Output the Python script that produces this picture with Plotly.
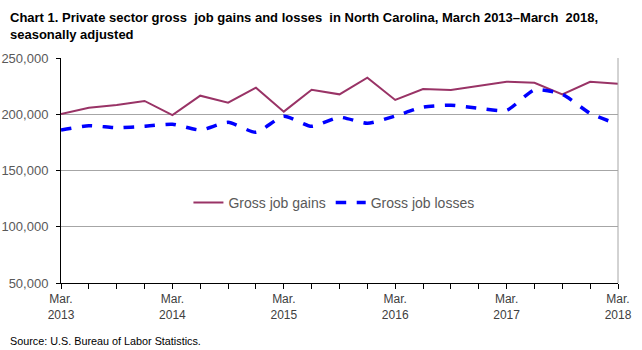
import plotly.graph_objects as go

quarters = ["Mar 2013", "Jun 2013", "Sep 2013", "Dec 2013",
            "Mar 2014", "Jun 2014", "Sep 2014", "Dec 2014",
            "Mar 2015", "Jun 2015", "Sep 2015", "Dec 2015",
            "Mar 2016", "Jun 2016", "Sep 2016", "Dec 2016",
            "Mar 2017", "Jun 2017", "Sep 2017", "Dec 2017",
            "Mar 2018"]
gross_job_gains = [200300, 205800, 208200, 211800, 199300, 216500, 210300, 223600,
                   202300, 221800, 217700, 232500, 212700, 222400, 221600, 225400,
                   228900, 228000, 217700, 228900, 227200]
gross_job_losses = [186000, 189800, 188000, 189300, 191100, 186000, 192800, 184000,
                    198200, 189300, 197300, 192000, 198400, 206400, 208000, 205300,
                    203500, 221600, 217700, 200800, 191100]
tick_labels = ["Mar.<br>2013", "Mar.<br>2014", "Mar.<br>2015", "Mar.<br>2016",
               "Mar.<br>2017", "Mar.<br>2018"]

xs = list(range(len(quarters)))
ticktext = []
j = 0
for i, q in enumerate(quarters):
    if q.startswith("Mar"):
        ticktext.append(tick_labels[j]); j += 1
    else:
        ticktext.append("")

NARROW = "Liberation Sans Narrow, Arial Narrow, Liberation Sans, Arial, sans-serif"
REG = "Liberation Sans, Arial, sans-serif"

fig = go.Figure()
fig.add_trace(go.Scatter(x=xs, y=gross_job_gains, mode="lines", name="Gross job gains",
                         line=dict(color="#993366", width=2)))
fig.add_trace(go.Scatter(x=xs, y=gross_job_losses, mode="lines", name="Gross job losses",
                         line=dict(color="#0000FF", width=3.5, dash="dash", shape="spline",
                                   smoothing=0.6)))

fig.update_layout(
    width=642, height=350,
    margin=dict(l=61, r=24, t=58, b=67),
    paper_bgcolor="white", plot_bgcolor="white",
    showlegend=True,
    legend=dict(orientation="h", x=0.49, xanchor="center", y=0.356, yanchor="middle",
                font=dict(family=REG, size=14, color="#595959"),
                bgcolor="rgba(0,0,0,0)", tracegroupgap=0),
    xaxis=dict(range=[0, 20], tickmode="array", tickvals=xs, ticktext=ticktext,
               automargin=False,
               showgrid=False, zeroline=False, showline=True, linecolor="black",
               linewidth=1, ticks="outside", ticklen=5, tickcolor="black",
               tickfont=dict(family=NARROW, size=12, color="#404040")),
    yaxis=dict(range=[50000, 250000], tickmode="array",
               tickvals=[50000, 100000, 150000, 200000, 250000],
               ticktext=["50,000", "100,000", "150,000", "200,000", "250,000"],
               automargin=False, ticklabelstandoff=5,
               showgrid=True, gridcolor="#A6A6A6", gridwidth=1, zeroline=False,
               showline=True, linecolor="black", linewidth=1, ticks="outside",
               ticklen=4, tickcolor="black",
               tickfont=dict(family=REG, size=13, color="#595959")),
    shapes=[dict(type="line", xref="paper", yref="paper", x0=1, x1=1, y0=0, y1=1,
                 line=dict(color="#A6A6A6", width=1))],
    annotations=[
        dict(text="<b>Chart 1. Private sector gross  job gains and losses  in North Carolina, March 2013–March  2018,<br>seasonally adjusted</b>",
             xref="paper", yref="paper", x=-53/557, y=1 + 50/225, xanchor="left", yanchor="top",
             align="left", showarrow=False, font=dict(family=NARROW, size=13, color="black")),
        dict(text="Source: U.S. Bureau of Labor Statistics.", xref="paper", yref="paper",
             x=-53/557, y=-(341 - 283) / 225, xanchor="left", yanchor="middle",
             showarrow=False, font=dict(family=NARROW, size=10.8, color="black")),
    ],
)

fig.write_html("out.html")
